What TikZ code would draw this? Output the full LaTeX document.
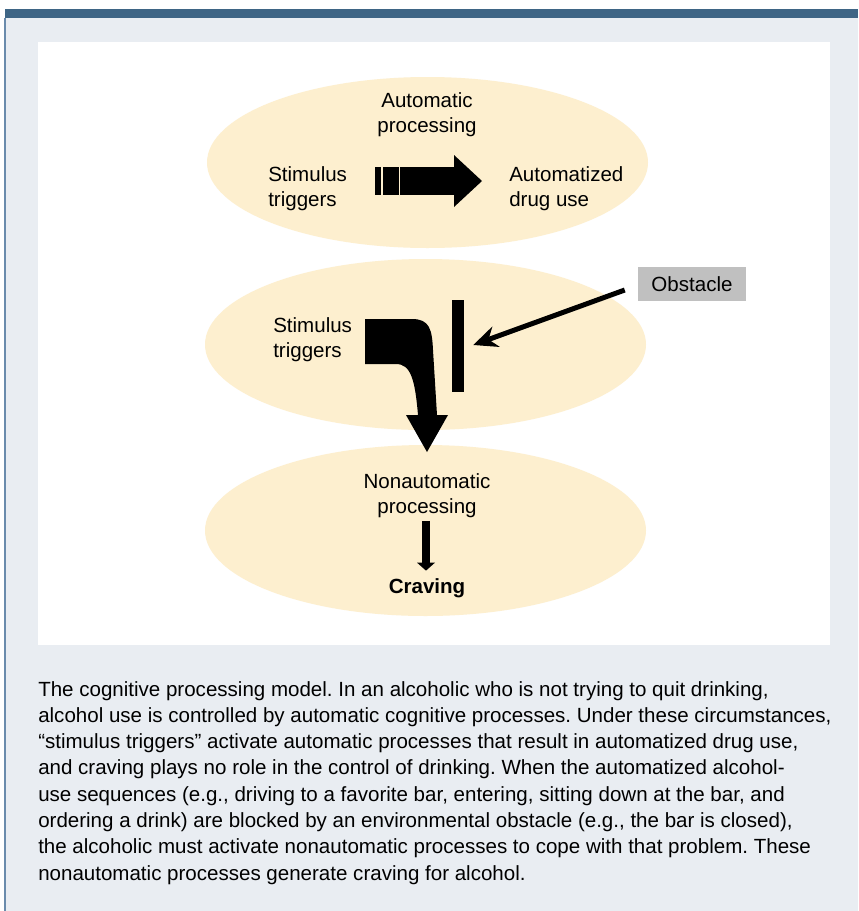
\documentclass[tikz,border=0pt]{standalone}
\usepackage{fontspec}
\setmainfont{Liberation Sans}
\usetikzlibrary{arrows.meta, shapes.geometric, positioning, calc}

\definecolor{pagebg}{RGB}{233,237,242}
\definecolor{topbar}{RGB}{62,101,133}
\definecolor{edgeline}{RGB}{106,139,172}
\definecolor{blob}{RGB}{253,239,207}
\definecolor{tagbg}{RGB}{192,192,192}

\tikzset{
    stage/.style={ellipse, fill=blob, minimum width=330.75pt, minimum height=128.25pt, inner sep=0pt},
    words/.style={font=\fontsize{15.4}{18.75}\selectfont, align=left, inner sep=0pt},
    bigarrow/.style={line width=21pt, -{Triangle[length=21pt, width=39pt, line width=0pt]}},
    smallarrow/.style={line width=6pt, -{Triangle[length=6pt, width=13.5pt, line width=0pt]}},
}

\begin{document}
\begin{tikzpicture}[x=0.75pt, y=-0.75pt]

    \useasboundingbox (0,0) rectangle (858,911);
    \fill[white] (0,0) rectangle (858,911);
    \fill[pagebg] (5,18) rectangle (858,911);
    \fill[topbar] (5,9) rectangle (858,18);
    \draw[edgeline, line width=1.1pt] (5,18) -- (5,911);
    \fill[white] (38,42) rectangle (830,645);

    \node[stage] (autoE) at (427.5,162.5) {};
    \node[stage] (midE) at (425.5,344.5) {};
    \node[stage] (lowE) at (425.5,530.5) {};

    % top ellipse
    \node[words, align=center] (autoT) at (427,115) {Automatic\\processing};
    \node[words, anchor=west] (stimA) at (268,188.5) {Stimulus\\triggers};
    \node[words, anchor=west] (drugA) at (509,188.5) {Automatized\\drug use};

    \coordinate (tail) at ($(stimA.east)+(53,-7.5)$);
    \fill ($(tail)+(-25,-14)$) rectangle ++(6,28);
    \fill ($(tail)+(-17,-14)$) rectangle ++(16,28);
    \draw[bigarrow] (tail) -- ($(drugA.west)+(-27,-7.5)$);

    % middle ellipse
    \node[words, anchor=west] (stimB) at (273,339.5) {Stimulus\\triggers};
    \node[fill=black, minimum width=9pt, minimum height=69pt, inner sep=0pt] (wall) at (458,346) {};
    \node[words, fill=tagbg, minimum width=81pt, minimum height=25.5pt] (obst) at (692,284) {Obstacle};

    \fill (365,319) -- (412,319) .. controls (430,319) and (432,330) .. (433,350)
        -- (437,415) -- (448,415) -- (427,452) -- (406,415) -- (418,415)
        .. controls (415,380) and (411,364) .. (396,364) -- (365,364) -- cycle;

    \draw[line width=3.75pt, -{Stealth[length=18pt, width=16pt]}]
        ($(obst.west)+(-13,6)$) -- ($(wall.east)+(9,-1)$);

    % bottom ellipse
    \node[words, align=center] (nonT) at (427,495.5) {Nonautomatic\\processing};
    \node[words, font=\fontsize{15.4}{18.75}\selectfont\bfseries] (crav) at (427,588.5) {Craving};
    \draw[smallarrow] ($(nonT.south)+(-1,3)$) -- ($(crav.north)+(-1,-8)$);

    \node[anchor=north west, inner sep=0pt, align=left,
        font=\fontsize{15.4}{19.7}\selectfont\frenchspacing] (note) at (38,681) {
        The cognitive processing model. In an alcoholic who is not trying to quit drinking,\\
        alcohol use is controlled by automatic cognitive processes. Under these circumstances,\\
        “stimulus triggers” activate automatic processes that result in automatized drug use,\\
        and craving plays no role in the control of drinking. When the automatized alcohol-\\
        use sequences (e.g., driving to a favorite bar, entering, sitting down at the bar, and\\
        ordering a drink) are blocked by an environmental obstacle (e.g., the bar is closed),\\
        the alcoholic must activate nonautomatic processes to cope with that problem. These\\
        nonautomatic processes generate craving for alcohol.};

\end{tikzpicture}
\end{document}
